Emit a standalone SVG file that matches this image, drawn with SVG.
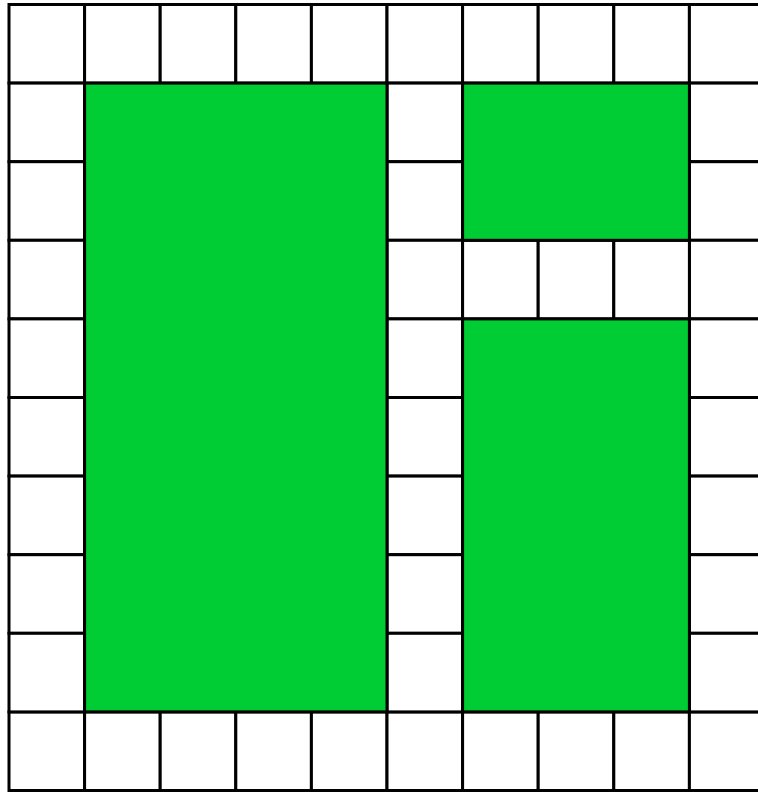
<svg xmlns="http://www.w3.org/2000/svg" width="758" height="793" viewBox="0 0 758 793">
<style>
.c{fill:#ffffff;stroke:#000000;stroke-width:3}
.g{fill:#00cc33;stroke:#000000;stroke-width:3}
</style>
<rect x="0" y="0" width="758" height="793" fill="#ffffff"/>
<g id="top-row">
<rect class="c" x="9" y="4.5" width="75.6" height="78.6"/>
<rect class="c" x="84.6" y="4.5" width="75.6" height="78.6"/>
<rect class="c" x="160.2" y="4.5" width="75.6" height="78.6"/>
<rect class="c" x="235.8" y="4.5" width="75.6" height="78.6"/>
<rect class="c" x="311.4" y="4.5" width="75.6" height="78.6"/>
<rect class="c" x="387" y="4.5" width="75.6" height="78.6"/>
<rect class="c" x="462.6" y="4.5" width="75.6" height="78.6"/>
<rect class="c" x="538.2" y="4.5" width="75.6" height="78.6"/>
<rect class="c" x="613.8" y="4.5" width="75.6" height="78.6"/>
<rect class="c" x="689.4" y="4.5" width="75.6" height="78.6"/>
</g>
<g id="bottom-row">
<rect class="c" x="9" y="711.9" width="75.6" height="78.6"/>
<rect class="c" x="84.6" y="711.9" width="75.6" height="78.6"/>
<rect class="c" x="160.2" y="711.9" width="75.6" height="78.6"/>
<rect class="c" x="235.8" y="711.9" width="75.6" height="78.6"/>
<rect class="c" x="311.4" y="711.9" width="75.6" height="78.6"/>
<rect class="c" x="387" y="711.9" width="75.6" height="78.6"/>
<rect class="c" x="462.6" y="711.9" width="75.6" height="78.6"/>
<rect class="c" x="538.2" y="711.9" width="75.6" height="78.6"/>
<rect class="c" x="613.8" y="711.9" width="75.6" height="78.6"/>
<rect class="c" x="689.4" y="711.9" width="75.6" height="78.6"/>
</g>
<g id="left-column">
<rect class="c" x="9" y="83.1" width="75.6" height="78.6"/>
<rect class="c" x="9" y="161.7" width="75.6" height="78.6"/>
<rect class="c" x="9" y="240.3" width="75.6" height="78.6"/>
<rect class="c" x="9" y="318.9" width="75.6" height="78.6"/>
<rect class="c" x="9" y="397.5" width="75.6" height="78.6"/>
<rect class="c" x="9" y="476.1" width="75.6" height="78.6"/>
<rect class="c" x="9" y="554.7" width="75.6" height="78.6"/>
<rect class="c" x="9" y="633.3" width="75.6" height="78.6"/>
</g>
<g id="middle-column">
<rect class="c" x="387" y="83.1" width="75.6" height="78.6"/>
<rect class="c" x="387" y="161.7" width="75.6" height="78.6"/>
<rect class="c" x="387" y="240.3" width="75.6" height="78.6"/>
<rect class="c" x="387" y="318.9" width="75.6" height="78.6"/>
<rect class="c" x="387" y="397.5" width="75.6" height="78.6"/>
<rect class="c" x="387" y="476.1" width="75.6" height="78.6"/>
<rect class="c" x="387" y="554.7" width="75.6" height="78.6"/>
<rect class="c" x="387" y="633.3" width="75.6" height="78.6"/>
</g>
<g id="right-column">
<rect class="c" x="689.4" y="83.1" width="75.6" height="78.6"/>
<rect class="c" x="689.4" y="161.7" width="75.6" height="78.6"/>
<rect class="c" x="689.4" y="240.3" width="75.6" height="78.6"/>
<rect class="c" x="689.4" y="318.9" width="75.6" height="78.6"/>
<rect class="c" x="689.4" y="397.5" width="75.6" height="78.6"/>
<rect class="c" x="689.4" y="476.1" width="75.6" height="78.6"/>
<rect class="c" x="689.4" y="554.7" width="75.6" height="78.6"/>
<rect class="c" x="689.4" y="633.3" width="75.6" height="78.6"/>
</g>
<g id="gap-row">
<rect class="c" x="462.6" y="240.3" width="75.6" height="78.6"/>
<rect class="c" x="538.2" y="240.3" width="75.6" height="78.6"/>
<rect class="c" x="613.8" y="240.3" width="75.6" height="78.6"/>
</g>
<g id="green-large">
<rect class="g" x="84.6" y="83.1" width="302.4" height="628.8"/>
</g>
<g id="green-top-right">
<rect class="g" x="462.6" y="83.1" width="226.8" height="157.2"/>
</g>
<g id="green-bottom-right">
<rect class="g" x="462.6" y="318.9" width="226.8" height="393"/>
</g>
</svg>
